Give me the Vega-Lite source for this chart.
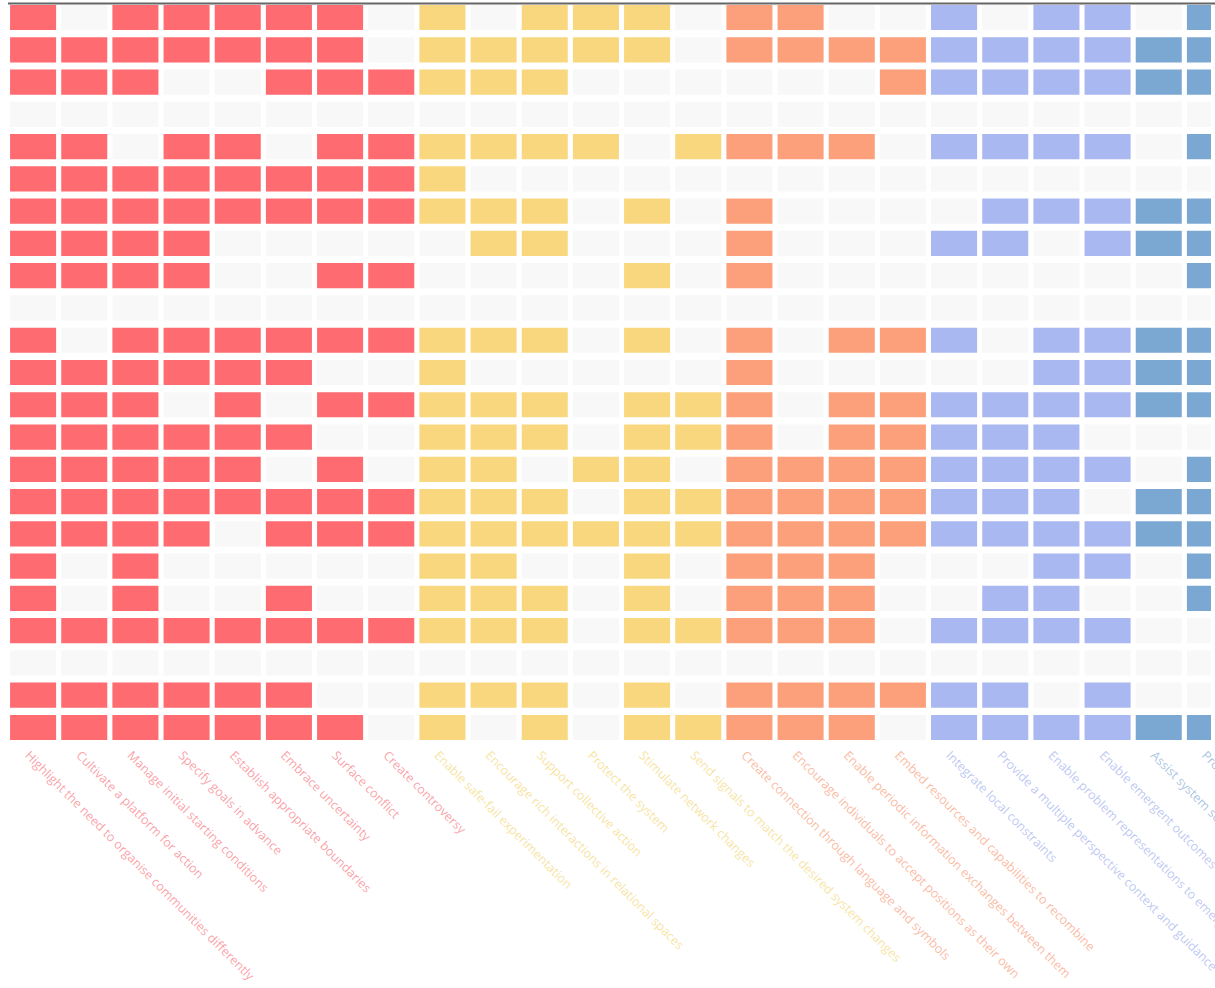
{
  "$schema": "https://vega.github.io/schema/vega-lite/v6.json",
  "autosize": {"type": "none"},
  "padding": {"left": 7.5, "top": 3, "right": 11.5, "bottom": 246},
  "width": 1203.5,
  "height": 739,
  "background": "white",
  "config": {"view": {"stroke": null}},
  "datasets": {
    "principles": [
      {"c": "c1", "order": 1, "group": "G1", "label": "Highlight the need to organise communities differently"},
      {"c": "c2", "order": 2, "group": "G1", "label": "Cultivate a platform for action"},
      {"c": "c3", "order": 3, "group": "G1", "label": "Manage initial starting conditions"},
      {"c": "c4", "order": 4, "group": "G1", "label": "Specify goals in advance"},
      {"c": "c5", "order": 5, "group": "G1", "label": "Establish appropriate boundaries"},
      {"c": "c6", "order": 6, "group": "G1", "label": "Embrace uncertainty"},
      {"c": "c7", "order": 7, "group": "G1", "label": "Surface conflict"},
      {"c": "c8", "order": 8, "group": "G1", "label": "Create controversy"},
      {"c": "c9", "order": 9, "group": "G2", "label": "Enable safe-fail experimentation"},
      {"c": "c10", "order": 10, "group": "G2", "label": "Encourage rich interactions in relational spaces"},
      {"c": "c11", "order": 11, "group": "G2", "label": "Support collective action"},
      {"c": "c12", "order": 12, "group": "G2", "label": "Protect the system"},
      {"c": "c13", "order": 13, "group": "G2", "label": "Stimulate network changes"},
      {"c": "c14", "order": 14, "group": "G2", "label": "Send signals to match the desired system changes"},
      {"c": "c15", "order": 15, "group": "G3", "label": "Create connection through language and symbols"},
      {"c": "c16", "order": 16, "group": "G3", "label": "Encourage individuals to accept positions as their own"},
      {"c": "c17", "order": 17, "group": "G3", "label": "Enable periodic information exchanges between them"},
      {"c": "c18", "order": 18, "group": "G3", "label": "Embed resources and capabilities to recombine"},
      {"c": "c19", "order": 19, "group": "G4", "label": "Integrate local constraints"},
      {"c": "c20", "order": 20, "group": "G4", "label": "Provide a multiple perspective context and guidance"},
      {"c": "c21", "order": 21, "group": "G4", "label": "Enable problem representations to emerge"},
      {"c": "c22", "order": 22, "group": "G4", "label": "Enable emergent outcomes to be seen"},
      {"c": "c23", "order": 23, "group": "G5", "label": "Assist system self-organisation"},
      {"c": "c24", "order": 24, "group": "G5", "label": "Promote adaptive capacity"}
    ],
    "grid": [
      {"r": 1, "c1": 1, "c2": 0, "c3": 1, "c4": 1, "c5": 1, "c6": 1, "c7": 1, "c8": 0, "c9": 1, "c10": 0, "c11": 1, "c12": 1, "c13": 1, "c14": 0, "c15": 1, "c16": 1, "c17": 0, "c18": 0, "c19": 1, "c20": 0, "c21": 1, "c22": 1, "c23": 0, "c24": 1},
      {"r": 2, "c1": 1, "c2": 1, "c3": 1, "c4": 1, "c5": 1, "c6": 1, "c7": 1, "c8": 0, "c9": 1, "c10": 1, "c11": 1, "c12": 1, "c13": 1, "c14": 0, "c15": 1, "c16": 1, "c17": 1, "c18": 1, "c19": 1, "c20": 1, "c21": 1, "c22": 1, "c23": 1, "c24": 1},
      {"r": 3, "c1": 1, "c2": 1, "c3": 1, "c4": 0, "c5": 0, "c6": 1, "c7": 1, "c8": 1, "c9": 1, "c10": 1, "c11": 1, "c12": 0, "c13": 0, "c14": 0, "c15": 0, "c16": 0, "c17": 0, "c18": 1, "c19": 1, "c20": 1, "c21": 1, "c22": 1, "c23": 1, "c24": 1},
      {"r": 4, "c1": 0, "c2": 0, "c3": 0, "c4": 0, "c5": 0, "c6": 0, "c7": 0, "c8": 0, "c9": 0, "c10": 0, "c11": 0, "c12": 0, "c13": 0, "c14": 0, "c15": 0, "c16": 0, "c17": 0, "c18": 0, "c19": 0, "c20": 0, "c21": 0, "c22": 0, "c23": 0, "c24": 0},
      {"r": 5, "c1": 1, "c2": 1, "c3": 0, "c4": 1, "c5": 1, "c6": 0, "c7": 1, "c8": 1, "c9": 1, "c10": 1, "c11": 1, "c12": 1, "c13": 0, "c14": 1, "c15": 1, "c16": 1, "c17": 1, "c18": 0, "c19": 1, "c20": 1, "c21": 1, "c22": 1, "c23": 0, "c24": 1},
      {"r": 6, "c1": 1, "c2": 1, "c3": 1, "c4": 1, "c5": 1, "c6": 1, "c7": 1, "c8": 1, "c9": 1, "c10": 0, "c11": 0, "c12": 0, "c13": 0, "c14": 0, "c15": 0, "c16": 0, "c17": 0, "c18": 0, "c19": 0, "c20": 0, "c21": 0, "c22": 0, "c23": 0, "c24": 0},
      {"r": 7, "c1": 1, "c2": 1, "c3": 1, "c4": 1, "c5": 1, "c6": 1, "c7": 1, "c8": 1, "c9": 1, "c10": 1, "c11": 1, "c12": 0, "c13": 1, "c14": 0, "c15": 1, "c16": 0, "c17": 0, "c18": 0, "c19": 0, "c20": 1, "c21": 1, "c22": 1, "c23": 1, "c24": 1},
      {"r": 8, "c1": 1, "c2": 1, "c3": 1, "c4": 1, "c5": 0, "c6": 0, "c7": 0, "c8": 0, "c9": 0, "c10": 1, "c11": 1, "c12": 0, "c13": 0, "c14": 0, "c15": 1, "c16": 0, "c17": 0, "c18": 0, "c19": 1, "c20": 1, "c21": 0, "c22": 1, "c23": 1, "c24": 1},
      {"r": 9, "c1": 1, "c2": 1, "c3": 1, "c4": 1, "c5": 0, "c6": 0, "c7": 1, "c8": 1, "c9": 0, "c10": 0, "c11": 0, "c12": 0, "c13": 1, "c14": 0, "c15": 1, "c16": 0, "c17": 0, "c18": 0, "c19": 0, "c20": 0, "c21": 0, "c22": 0, "c23": 0, "c24": 1},
      {"r": 10, "c1": 0, "c2": 0, "c3": 0, "c4": 0, "c5": 0, "c6": 0, "c7": 0, "c8": 0, "c9": 0, "c10": 0, "c11": 0, "c12": 0, "c13": 0, "c14": 0, "c15": 0, "c16": 0, "c17": 0, "c18": 0, "c19": 0, "c20": 0, "c21": 0, "c22": 0, "c23": 0, "c24": 0},
      {"r": 11, "c1": 1, "c2": 0, "c3": 1, "c4": 1, "c5": 1, "c6": 1, "c7": 1, "c8": 1, "c9": 1, "c10": 1, "c11": 1, "c12": 0, "c13": 1, "c14": 0, "c15": 1, "c16": 0, "c17": 1, "c18": 1, "c19": 1, "c20": 0, "c21": 1, "c22": 1, "c23": 1, "c24": 1},
      {"r": 12, "c1": 1, "c2": 1, "c3": 1, "c4": 1, "c5": 1, "c6": 1, "c7": 0, "c8": 0, "c9": 1, "c10": 0, "c11": 0, "c12": 0, "c13": 0, "c14": 0, "c15": 1, "c16": 0, "c17": 0, "c18": 0, "c19": 0, "c20": 0, "c21": 1, "c22": 1, "c23": 1, "c24": 1},
      {"r": 13, "c1": 1, "c2": 1, "c3": 1, "c4": 0, "c5": 1, "c6": 0, "c7": 1, "c8": 1, "c9": 1, "c10": 1, "c11": 1, "c12": 0, "c13": 1, "c14": 1, "c15": 1, "c16": 0, "c17": 1, "c18": 1, "c19": 1, "c20": 1, "c21": 1, "c22": 1, "c23": 1, "c24": 1},
      {"r": 14, "c1": 1, "c2": 1, "c3": 1, "c4": 1, "c5": 1, "c6": 1, "c7": 0, "c8": 0, "c9": 1, "c10": 1, "c11": 1, "c12": 0, "c13": 1, "c14": 1, "c15": 1, "c16": 0, "c17": 1, "c18": 1, "c19": 1, "c20": 1, "c21": 1, "c22": 0, "c23": 0, "c24": 0},
      {"r": 15, "c1": 1, "c2": 1, "c3": 1, "c4": 1, "c5": 1, "c6": 0, "c7": 1, "c8": 0, "c9": 1, "c10": 1, "c11": 0, "c12": 1, "c13": 1, "c14": 0, "c15": 1, "c16": 1, "c17": 1, "c18": 1, "c19": 1, "c20": 1, "c21": 1, "c22": 1, "c23": 0, "c24": 1},
      {"r": 16, "c1": 1, "c2": 1, "c3": 1, "c4": 1, "c5": 1, "c6": 1, "c7": 1, "c8": 1, "c9": 1, "c10": 1, "c11": 1, "c12": 0, "c13": 1, "c14": 1, "c15": 1, "c16": 1, "c17": 1, "c18": 1, "c19": 1, "c20": 1, "c21": 1, "c22": 0, "c23": 1, "c24": 1},
      {"r": 17, "c1": 1, "c2": 1, "c3": 1, "c4": 1, "c5": 0, "c6": 1, "c7": 1, "c8": 1, "c9": 1, "c10": 1, "c11": 1, "c12": 1, "c13": 1, "c14": 1, "c15": 1, "c16": 1, "c17": 1, "c18": 1, "c19": 1, "c20": 1, "c21": 1, "c22": 1, "c23": 1, "c24": 1},
      {"r": 18, "c1": 1, "c2": 0, "c3": 1, "c4": 0, "c5": 0, "c6": 0, "c7": 0, "c8": 0, "c9": 1, "c10": 1, "c11": 0, "c12": 0, "c13": 1, "c14": 0, "c15": 1, "c16": 1, "c17": 1, "c18": 0, "c19": 0, "c20": 0, "c21": 1, "c22": 1, "c23": 0, "c24": 1},
      {"r": 19, "c1": 1, "c2": 0, "c3": 1, "c4": 0, "c5": 0, "c6": 1, "c7": 0, "c8": 0, "c9": 1, "c10": 1, "c11": 1, "c12": 0, "c13": 1, "c14": 0, "c15": 1, "c16": 1, "c17": 1, "c18": 0, "c19": 0, "c20": 1, "c21": 1, "c22": 0, "c23": 0, "c24": 1},
      {"r": 20, "c1": 1, "c2": 1, "c3": 1, "c4": 1, "c5": 1, "c6": 1, "c7": 1, "c8": 1, "c9": 1, "c10": 1, "c11": 1, "c12": 0, "c13": 1, "c14": 1, "c15": 1, "c16": 1, "c17": 1, "c18": 0, "c19": 1, "c20": 1, "c21": 1, "c22": 1, "c23": 0, "c24": 0},
      {"r": 21, "c1": 0, "c2": 0, "c3": 0, "c4": 0, "c5": 0, "c6": 0, "c7": 0, "c8": 0, "c9": 0, "c10": 0, "c11": 0, "c12": 0, "c13": 0, "c14": 0, "c15": 0, "c16": 0, "c17": 0, "c18": 0, "c19": 0, "c20": 0, "c21": 0, "c22": 0, "c23": 0, "c24": 0},
      {"r": 22, "c1": 1, "c2": 1, "c3": 1, "c4": 1, "c5": 1, "c6": 1, "c7": 0, "c8": 0, "c9": 1, "c10": 1, "c11": 1, "c12": 0, "c13": 1, "c14": 0, "c15": 1, "c16": 1, "c17": 1, "c18": 1, "c19": 1, "c20": 1, "c21": 0, "c22": 1, "c23": 0, "c24": 0},
      {"r": 23, "c1": 1, "c2": 1, "c3": 1, "c4": 1, "c5": 1, "c6": 1, "c7": 1, "c8": 0, "c9": 1, "c10": 0, "c11": 1, "c12": 0, "c13": 1, "c14": 1, "c15": 1, "c16": 1, "c17": 1, "c18": 0, "c19": 1, "c20": 1, "c21": 1, "c22": 1, "c23": 1, "c24": 1}
    ]
  },
  "data": {"name": "grid"},
  "transform": [
    {"fold": ["c1", "c2", "c3", "c4", "c5", "c6", "c7", "c8", "c9", "c10", "c11", "c12", "c13", "c14", "c15", "c16", "c17", "c18", "c19", "c20", "c21", "c22", "c23", "c24"], "as": ["c", "v"]},
    {"lookup": "c", "from": {"data": {"name": "principles"}, "key": "c", "fields": ["label", "group", "order"]}}
  ],
  "layer": [
    {
      "mark": {"type": "rect", "clip": true},
      "encoding": {
        "x": {
          "field": "label", "type": "nominal",
          "sort": {"field": "order", "op": "min"},
          "scale": {"range": [0, 1228], "paddingInner": 0.1, "paddingOuter": 0.05},
          "axis": {
            "orient": "bottom", "title": null, "domain": false, "ticks": false,
            "labelAngle": 45, "labelAlign": "left", "labelBaseline": "middle",
            "labelPadding": 11, "labelOffset": -6, "labelLimit": 700,
            "labelFont": "Open Sans", "labelFontSize": 12.5, "labelOpacity": 0.6,
            "labelOverlap": false,
            "labelColor": {
              "condition": [
                {"test": "indexof(domain('x'), datum.value) < 8", "value": "#f7606b"},
                {"test": "indexof(domain('x'), datum.value) < 14", "value": "#f2d060"},
                {"test": "indexof(domain('x'), datum.value) < 18", "value": "#f88a62"},
                {"test": "indexof(domain('x'), datum.value) < 22", "value": "#8fa2ea"}
              ],
              "value": "#6a9bcc"
            }
          }
        },
        "y": {"field": "r", "type": "ordinal", "scale": {"paddingInner": 0.22, "paddingOuter": 0.06}, "axis": null},
        "color": {
          "condition": {"test": "datum.v == 0", "value": "#f8f8f8"},
          "field": "group", "type": "nominal",
          "scale": {"domain": ["G1", "G2", "G3", "G4", "G5"], "range": ["#fe6b70", "#f9d77e", "#fca07b", "#a9b8f0", "#7ba8d3"]},
          "legend": null
        }
      }
    },
    {
      "mark": {"type": "rect", "opacity": 0},
      "encoding": {
        "x": {
          "field": "label", "type": "nominal",
          "sort": {"field": "order", "op": "min"},
          "axis": {"orient": "top", "title": null, "labels": false, "ticks": false, "domain": true, "domainColor": "#666666", "domainWidth": 2}
        }
      }
    }
  ],
  "resolve": {"axis": {"x": "independent"}}
}
